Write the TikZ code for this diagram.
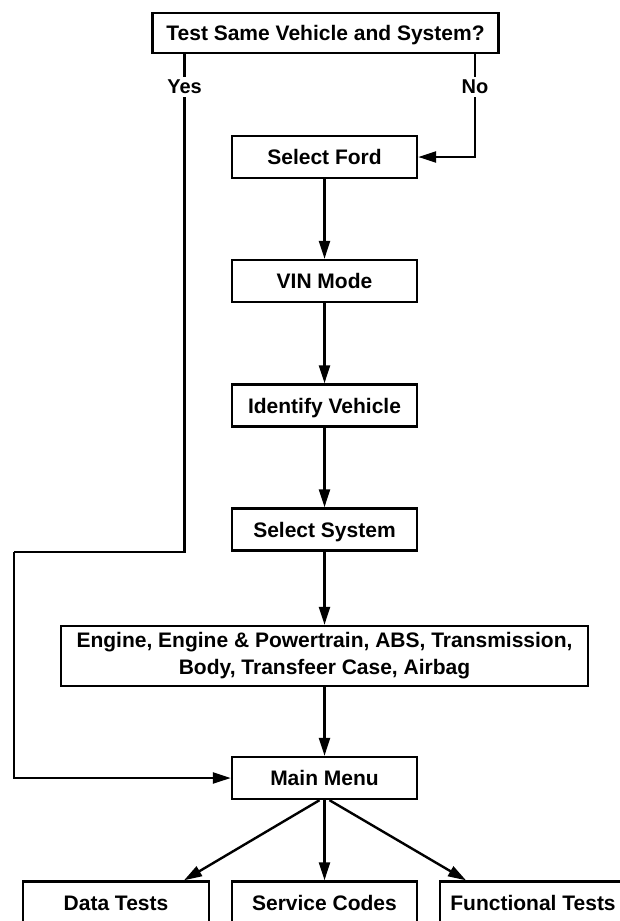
\documentclass[tikz,border=0pt]{standalone}
\usepackage{fontspec}
\setmainfont{Liberation Sans}
\usetikzlibrary{arrows.meta}
\tikzset{
  box/.style={draw, line width=2.4pt, fill=white, align=center, font=\bfseries\fontsize{21}{27}\selectfont,
    minimum width=185pt, minimum height=42pt, inner sep=4pt, text height=15pt, text depth=0pt},
  link/.style={line width=2.4pt, -{Triangle[length=18pt,width=11pt]}},
  answer/.style={fill=white, font=\bfseries\fontsize{20}{24}\selectfont, inner sep=3pt}
}
\begin{document}
\begin{tikzpicture}[x=1pt,y=-1pt]
\useasboundingbox (0,0) rectangle (619,921);
\node[box, minimum width=346pt, minimum height=40pt] (test) at (325.5,33) {Test Same Vehicle and System?};
\node[box] (ford) at (324.5,157) {Select Ford};
\node[box] (vin) at (324.5,281) {VIN Mode};
\node[box] (identify) at (324.5,405.5) {Identify Vehicle};
\node[box] (system) at (324.5,529.5) {Select System};
\node[box, minimum width=527pt, minimum height=60pt, text height=, text depth=] (modules) at (324.5,656) {Engine, Engine \& Powertrain, ABS, Transmission,\\Body, Transfeer Case, Airbag};
\node[box] (menu) at (324.5,778) {Main Menu};
\node[box, minimum width=186pt] (data) at (116,902.5) {Data Tests};
\node[box] (codes) at (324.5,902.5) {Service Codes};
\node[box, minimum width=186pt] (functional) at (533,902.5) {Functional Tests};
% yes / no branches
\coordinate (yesturn) at (184.5,552);
\coordinate (yesleft) at (14,552);
\coordinate (noturn) at (475,157);
\draw[line width=2.4pt] (test.south -| yesturn) -- (yesturn) -- (yesleft);
\draw[link] (yesleft) |- (menu.west);
\draw[link] (test.south -| noturn) -- (noturn) -- (ford.east);
\node[answer] (yes) at (184.5,87) {Yes};
\node[answer] (no) at (475,87) {No};
% main column
\draw[link] (ford) -- (vin);
\draw[link] (vin) -- (identify);
\draw[link] (identify) -- (system);
\draw[link] (system) -- (modules);
\draw[link] (modules) -- (menu);
% menu choices
\draw[link] ([xshift=-5pt]menu.south) -- ([xshift=68pt]data.north);
\draw[link] (menu) -- (codes);
\draw[link] ([xshift=5pt]menu.south) -- ([xshift=-67pt]functional.north);
\end{tikzpicture}
\end{document}
